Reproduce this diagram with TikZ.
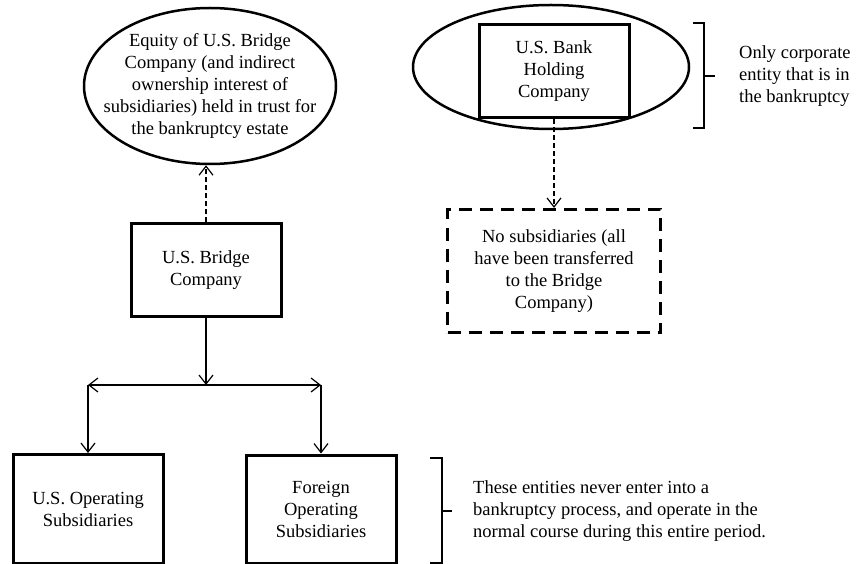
\documentclass[tikz,border=0pt]{standalone}
\usepackage{fontspec}
\setmainfont{Liberation Serif}
\usetikzlibrary{calc,shapes.geometric,arrows.meta}

\tikzset{
  txt/.style={font=\fontsize{18.5}{22}\selectfont, align=center, inner sep=0pt},
  entity/.style={txt, draw, line width=3pt, minimum width=150pt, minimum height=93pt},
  oval/.style={ellipse, draw, line width=2.5pt},
  link/.style={line width=1.2pt, -{Straight Barb[length=9pt,width=14pt]}},
  dlink/.style={link, dash pattern=on 5pt off 3pt},
  brace/.style={line width=1.6pt},
}

\begin{document}
\begin{tikzpicture}[x=1pt,y=-1pt]
\useasboundingbox (0,0) rectangle (859,564);

%% Bridge Company side
\node[oval, minimum width=252pt, minimum height=156pt] (equity) at (210,86) {};
\node[txt] (equitytxt) at (equity.center) {Equity of U.S. Bridge\\Company (and indirect\\ownership interest of\\subsidiaries) held in trust for\\the bankruptcy estate};

\node[entity] (bridge) at (206,270) {U.S. Bridge\\Company};
\draw[dlink] (bridge.north) -- (bridge.north |- equity.south);

%% subsidiaries
\coordinate (split) at (206,385);
\node[entity, minimum height=109pt] (usop) at (88,509) {U.S. Operating\\Subsidiaries};
\node[entity, minimum height=108pt] (foreign) at (321,509) {Foreign\\Operating\\Subsidiaries};
\coordinate (splitL) at (usop.north |- split);
\coordinate (splitR) at (foreign.north |- split);

\draw[link] (bridge) -- (split);
\draw[link] (split) -- (splitL);
\draw[link] (split) -- (splitR);
\draw[link] (splitL) -- (usop);
\draw[link] (splitR) -- (foreign);

%% Bank Holding Company side
\node[oval, minimum width=276pt, minimum height=124pt] (estate) at (551,67) {};
\node[entity] (bank) at (554,71) {U.S. Bank\\Holding\\Company};
\node[txt, draw, line width=3.2pt, dash pattern=on 13pt off 8pt, minimum width=213pt, minimum height=123pt] (nosub) at (554,271) {No subsidiaries (all\\have been transferred\\to the Bridge\\Company)};
\draw[dlink] (bank) -- (nosub);

%% brackets
\draw[brace] (693,23) -- (704,23) -- (704,128) -- (693,128);
\coordinate (topmid) at (715,76);
\draw[brace] (704,76) -- (topmid);
\node[txt, align=left, anchor=west] (onlytxt) at ($(topmid)+(24,0)$) {Only corporate\\entity that is in\\the bankruptcy};

\draw[brace] (430,458) -- (442,458) -- (442,563) -- (430,563);
\coordinate (botmid) at (452,511);
\draw[brace] (442,511) -- (botmid);
\node[txt, align=left, anchor=west] (nevertxt) at ($(botmid)+(21,0)$) {These entities never enter into a\\bankruptcy process, and operate in the\\normal course during this entire period.};

\end{tikzpicture}
\end{document}
